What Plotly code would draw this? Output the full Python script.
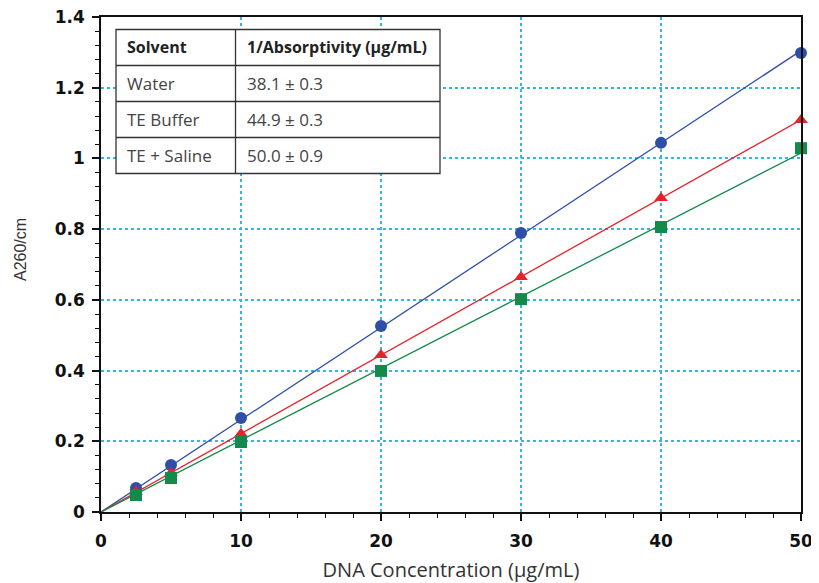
import numpy as np
import plotly.graph_objects as go

# ---- data ----
conc = [2.5, 5, 10, 20, 30, 40, 50]
water = [0.068, 0.133, 0.266, 0.526, 0.789, 1.044, 1.298]
te_buffer = [0.058, 0.110, 0.221, 0.444, 0.665, 0.888, 1.109]
te_saline = [0.048, 0.096, 0.198, 0.399, 0.602, 0.806, 1.029]

table_header = ["Solvent", "1/Absorptivity (µg/mL)"]
table_solvent = ["Water", "TE Buffer", "TE + Saline"]
table_value = ["38.1 ± 0.3", "44.9 ± 0.3", "50.0 ± 0.9"]

series = [
    ("Water", water, "#2f4ea6", "circle"),
    ("TE Buffer", te_buffer, "#e4232c", "triangle-up"),
    ("TE + Saline", te_saline, "#13894a", "square"),
]

# ---- layout geometry (pixels, page is offset by the 8px body margin) ----
OFF = 8
W, H = 819, 583
L, T = 101 - OFF, 17 - OFF
PW, PH = 700, 495
R, B = W - L - PW, H - T - PH


def px(x):  # screen pixel -> paper fraction
    return (x - OFF - L) / PW


def py(y):
    return (T + PH - (y - OFF)) / PH


fig = go.Figure()
x_arr = np.array(conc, dtype=float)
for name, ys, color, sym in series:
    y_arr = np.array(ys, dtype=float)
    slope = float(np.sum(x_arr * y_arr) / np.sum(x_arr * x_arr))
    fx = [0, max(conc)]
    fig.add_trace(go.Scatter(x=fx, y=[slope * v for v in fx], mode="lines",
                             line=dict(color=color, width=1.3),
                             showlegend=False, hoverinfo="skip"))
    fig.add_trace(go.Scatter(x=conc, y=ys, mode="markers", name=name,
                             marker=dict(color=color, symbol=sym, size=12,
                                         line=dict(width=0)),
                             showlegend=False, cliponaxis=False))

# ---- inset table (shapes + annotations built from the lists) ----
tx0, tx1, tx2 = 116, 235.5, 440
row_h = 36
ty0 = 29.5
rows = [table_header] + [[s, v] for s, v in zip(table_solvent, table_value)]
ty_end = ty0 + row_h * len(rows)
border = dict(color="#333333", width=1.3)
shapes = [dict(type="rect", xref="paper", yref="paper", x0=px(tx0), x1=px(tx2),
               y0=py(ty0), y1=py(ty_end), fillcolor="white", line=border, layer="above")]
shapes.append(dict(type="line", xref="paper", yref="paper", x0=px(tx1), x1=px(tx1),
                   y0=py(ty0), y1=py(ty_end), line=border, layer="above"))
for i in range(1, len(rows)):
    yy = py(ty0 + row_h * i)
    shapes.append(dict(type="line", xref="paper", yref="paper", x0=px(tx0), x1=px(tx2),
                       y0=yy, y1=yy, line=border, layer="above"))

annotations = []
cell_font = "Open Sans, Lato, sans-serif"
for i, row in enumerate(rows):
    yc = py(ty0 + row_h * (i + 0.5))
    for j, txt in enumerate(row):
        xl = (tx0 if j == 0 else tx1) + 9
        annotations.append(dict(
            x=px(xl), y=yc, xref="paper", yref="paper", xanchor="left", yanchor="middle",
            text=("<b>%s</b>" % txt) if i == 0 else txt, showarrow=False,
            font=dict(family=cell_font, size=16 if i == 0 else 17,
                      color="#222222" if i == 0 else "#444444")))

# y-axis title
annotations.append(dict(x=px(20), y=py(250), xref="paper", yref="paper",
                        xanchor="center", yanchor="middle", textangle=-90,
                        text="A260/cm", showarrow=False,
                        font=dict(family="Liberation Sans, Arial, sans-serif", size=16,
                                  color="#333333")))

tickfont = dict(family="DejaVu Sans, Arial, sans-serif", size=17, color="#111111", weight="bold")
grid = dict(showgrid=True, gridcolor="#33b5e5", griddash="dot", gridwidth=1.5)

fig.update_xaxes(range=[0, 50], dtick=10, tick0=0, ticks="outside", ticklen=7,
                 tickwidth=1.5, tickcolor="#111111", showline=True, linecolor="#111111",
                 linewidth=1.5, mirror=True, zeroline=False, tickfont=tickfont,
                 automargin=False, ticklabelstandoff=6, ticklabeloverflow="allow",
                 minor=dict(dtick=2, ticks="outside", ticklen=4, tickcolor="#111111",
                            tickwidth=1.2, showgrid=False),
                 title=dict(text="DNA Concentration (µg/mL)",
                            font=dict(family="Open Sans, sans-serif", size=20, color="#333333"),
                            standoff=13),
                 **grid)
fig.update_yaxes(range=[0, 1.4], dtick=0.2, tick0=0, ticks="outside", ticklen=7,
                 tickwidth=1.5, tickcolor="#111111", showline=True, linecolor="#111111",
                 linewidth=1.5, mirror=True, zeroline=False, tickfont=tickfont,
                 tickformat="~g", automargin=False, ticklabelstandoff=4,
                 ticklabeloverflow="allow",
                 minor=dict(dtick=0.04, ticks="outside", ticklen=4, tickcolor="#111111",
                            tickwidth=1.2, showgrid=False),
                 **grid)

fig.update_layout(width=W, height=H, margin=dict(l=L, r=R, t=T, b=B),
                  plot_bgcolor="white", paper_bgcolor="white", showlegend=False,
                  shapes=shapes, annotations=annotations)

fig.write_html("out.html")
